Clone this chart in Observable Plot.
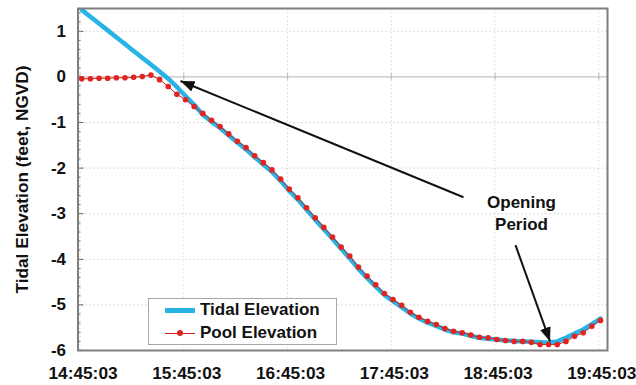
<!DOCTYPE html>
<html>
<head>
<meta charset="utf-8">
<script src="https://cdn.jsdelivr.net/npm/d3@7"></script>
<script src="https://cdn.jsdelivr.net/npm/@observablehq/plot@0.6"></script>
<style>
  html, body { margin: 0; padding: 0; background: #fff; }
  #wrap { position: relative; width: 636px; height: 385px; overflow: hidden;
          font-family: "Liberation Sans", Arial, sans-serif; }
  #legend { position: absolute; left: 148px; top: 298px; width: 189px; height: 47px;
            border: 1px solid #a8a8a8; background: #fff; box-sizing: border-box;
            font-weight: bold; font-size: 17px; color: #111; }
  #legend .row { position: absolute; left: 0; height: 20px; display: flex; align-items: center; }
  #legend .sw { position: relative; width: 30px; height: 20px; margin-left: 16px; margin-right: 5px; }
  #legend .sw .ln { position: absolute; left: 0; right: 0; top: 50%; }
  #legend .sw .dt { position: absolute; left: 12px; top: 7px; width: 6px; height: 6px; border-radius: 50%; }
</style>
</head>
<body>
<div id="wrap"></div>
<script>
// ---- data ----
const times = [
  "14:46:03","14:51:03","14:56:03","15:01:03","15:06:03","15:11:03","15:16:03","15:21:03","15:26:03","15:31:03",
  "15:36:03","15:41:03","15:46:03","15:51:03","15:56:03","16:01:03","16:06:03","16:11:03","16:16:03","16:21:03",
  "16:26:03","16:31:03","16:36:03","16:41:03","16:46:03","16:51:03","16:56:03","17:01:03","17:06:03","17:11:03",
  "17:16:03","17:21:03","17:26:03","17:31:03","17:36:03","17:41:03","17:46:03","17:51:03","17:56:03","18:01:03",
  "18:06:03","18:11:03","18:16:03","18:21:03","18:26:03","18:31:03","18:36:03","18:41:03","18:46:03","18:51:03",
  "18:56:03","19:01:03","19:06:03","19:11:03","19:16:03","19:21:03","19:26:03","19:31:03","19:36:03","19:41:03",
  "19:46:03"
];
const tidalElevation = [
  1.47, 1.32, 1.17, 1.02, 0.87, 0.72, 0.57, 0.42, 0.27, 0.12,
  -0.04, -0.22, -0.42, -0.61, -0.83, -0.98, -1.12, -1.28, -1.44, -1.59,
  -1.76, -1.92, -2.08, -2.28, -2.50, -2.69, -2.91, -3.13, -3.34, -3.55,
  -3.77, -3.98, -4.21, -4.41, -4.60, -4.78, -4.92, -5.05, -5.19, -5.30,
  -5.39, -5.46, -5.54, -5.60, -5.63, -5.68, -5.72, -5.74, -5.76, -5.78,
  -5.79, -5.80, -5.81, -5.82, -5.83, -5.80, -5.72, -5.63, -5.54, -5.42,
  -5.30
];
const poolElevation = [
  -0.04, -0.04, -0.03, -0.03, -0.02, -0.02, -0.01, 0.01, 0.04, -0.06,
  -0.21, -0.38, -0.50, -0.65, -0.80, -0.95, -1.09, -1.25, -1.41, -1.55,
  -1.73, -1.88, -2.04, -2.24, -2.46, -2.65, -2.87, -3.09, -3.30, -3.51,
  -3.73, -3.93, -4.17, -4.37, -4.56, -4.75, -4.88, -5.01, -5.16, -5.27,
  -5.36, -5.43, -5.52, -5.58, -5.61, -5.66, -5.71, -5.72, -5.76, -5.78,
  -5.80, -5.80, -5.82, -5.87, -5.87, -5.87, -5.80, -5.69, -5.61, -5.47,
  -5.34
];
const xTickLabels = ["14:45:03","15:45:03","16:45:03","17:45:03","18:45:03","19:45:03"];
const yTickValues = [-6, -5, -4, -3, -2, -1, 0, 1];
const xDomainLabels = ["14:43:53", "19:50:05"];
const yDomain = [-6, 1.5];
const yLabel = "Tidal Elevation (feet, NGVD)";
const seriesNames = ["Tidal Elevation", "Pool Elevation"];
const annotationText = ["Opening\nPeriod"];
const annotationAt = [{t: "19:00:21", v: -2.97}];
const arrowSpecs = [
  {t1: "18:26:48", v1: -2.64, t2: "15:43:10", v2: -0.09},
  {t1: "18:56:53", v1: -3.69, t2: "19:16:51", v2: -5.80}
];

// ---- styles ----
const BLUE = "#27b3e3";
const RED = "#e2231f";
const REDLINE = "#cc2020";
const FONT = "'Liberation Sans', Arial, sans-serif";

const parse = s => new Date(`2000-01-01T${s}Z`);
const data = times.map((s, i) => ({t: parse(s), tidal: tidalElevation[i], pool: poolElevation[i]}));
const hourTicks = xTickLabels.map(parse);
const minorTicks = d3.range(-6, 1.5001, 0.2).map(d => Math.round(d * 10) / 10).filter(d => Math.abs(d - Math.round(d)) > 1e-6);
const gridTicks = yTickValues.filter(d => d !== 0 && d !== -6);
const arrows = arrowSpecs.map(a => ({x1: parse(a.t1), y1: a.v1, x2: parse(a.t2), y2: a.v2}));
const annots = annotationAt.map((a, i) => ({x: parse(a.t), y: a.v, text: annotationText[i]}));

function filledHead(color, context) {
  const doc = (context && context.document) || document;
  const ns = "http://www.w3.org/2000/svg";
  const m = doc.createElementNS(ns, "marker");
  m.setAttribute("viewBox", "-14 -6 14 12");
  m.setAttribute("markerUnits", "userSpaceOnUse");
  m.setAttribute("markerWidth", "14");
  m.setAttribute("markerHeight", "12");
  m.setAttribute("orient", "auto");
  m.setAttribute("refX", "0");
  m.setAttribute("refY", "0");
  const p = doc.createElementNS(ns, "path");
  p.setAttribute("d", "M-14,-5.5L0,0L-14,5.5Z");
  p.setAttribute("fill", color);
  p.setAttribute("stroke", "none");
  m.appendChild(p);
  return m;
}

function build(useMarker) {
  const arrowMark = useMarker
    ? Plot.link(arrows, {x1: "x1", y1: "y1", x2: "x2", y2: "y2", stroke: "#111", strokeWidth: 2, markerEnd: filledHead})
    : Plot.arrow(arrows, {x1: "x1", y1: "y1", x2: "x2", y2: "y2", stroke: "#111", strokeWidth: 2, headLength: 12, headAngle: 45});
  return Plot.plot({
    width: 636,
    height: 385,
    marginTop: 8,
    marginBottom: 35,
    marginLeft: 77.5,
    marginRight: 29,
    style: {fontFamily: FONT, fontSize: "17px", fontWeight: "bold", color: "#111", background: "white"},
    x: {type: "utc", domain: xDomainLabels.map(parse)},
    y: {domain: yDomain},
    marks: [
      Plot.gridY(gridTicks, {stroke: "#9a9a9a", strokeOpacity: 0.45, strokeDasharray: "1.5,2.5"}),
      Plot.gridX(hourTicks, {stroke: "#9a9a9a", strokeOpacity: 0.35, strokeDasharray: "1.5,2.5"}),
      Plot.ruleY([0], {stroke: "#c2c2c2", strokeWidth: 1.3}),
      Plot.ruleX(hourTicks, {x: d => d, y1: -0.07, y2: 0.07, stroke: "#bcbcbc", strokeWidth: 1.2}),
      Plot.axisY(minorTicks, {tickSize: 3, dx: 3, tickFormat: () => "", label: null, stroke: "#777"}),
      Plot.axisY(yTickValues, {tickSize: 6, dx: 6, tickFormat: () => "", label: null, stroke: "#666"}),
      Plot.axisY(yTickValues, {tickSize: 0, tickPadding: 12, tickFormat: d => String(d), label: null, fontSize: 17, fontWeight: "bold"}),
      Plot.axisX(hourTicks, {tickSize: 0, tickPadding: 16, dx: 3, tickFormat: d3.utcFormat("%H:%M:%S"), label: null, fontSize: 17.3, fontWeight: "bold"}),
      Plot.text([yLabel], {frameAnchor: "left", textAnchor: "middle", rotate: -90, dx: -55.5, fontSize: 17.3, fontWeight: "bold", fill: "#111"}),
      Plot.line(data, {x: "t", y: "tidal", stroke: BLUE, strokeWidth: 4.5, clip: true}),
      Plot.line(data, {x: "t", y: "pool", stroke: REDLINE, strokeWidth: 1}),
      Plot.dot(data, {x: "t", y: "pool", r: 2.8, fill: RED, stroke: "none"}),
      arrowMark,
      Plot.text(annots, {x: "x", y: "y", text: "text", fontSize: 17, fontWeight: "bold", fill: "#111", lineHeight: 1.3}),
      Plot.frame({stroke: "#7f7f7f", strokeWidth: 2})
    ]
  });
}

let chart;
try { chart = build(true); } catch (e) { chart = build(false); }
const wrap = document.getElementById("wrap");
wrap.appendChild(chart);

// legend (HTML overlay)
const legend = document.createElement("div");
legend.id = "legend";
seriesNames.forEach((name, i) => {
  const row = document.createElement("div");
  row.className = "row";
  row.style.top = (i === 0 ? 1 : 24) + "px";
  const sw = document.createElement("span");
  sw.className = "sw";
  const ln = document.createElement("span");
  ln.className = "ln";
  if (i === 0) { ln.style.height = "5px"; ln.style.marginTop = "-2.5px"; ln.style.background = BLUE; }
  else { ln.style.height = "1px"; ln.style.marginTop = "-0.5px"; ln.style.background = REDLINE; }
  sw.appendChild(ln);
  if (i === 1) {
    const dt = document.createElement("span");
    dt.className = "dt";
    dt.style.background = RED;
    sw.appendChild(dt);
  }
  row.appendChild(sw);
  const tx = document.createElement("span");
  tx.textContent = name;
  row.appendChild(tx);
  legend.appendChild(row);
});
wrap.appendChild(legend);
</script>
</body>
</html>
